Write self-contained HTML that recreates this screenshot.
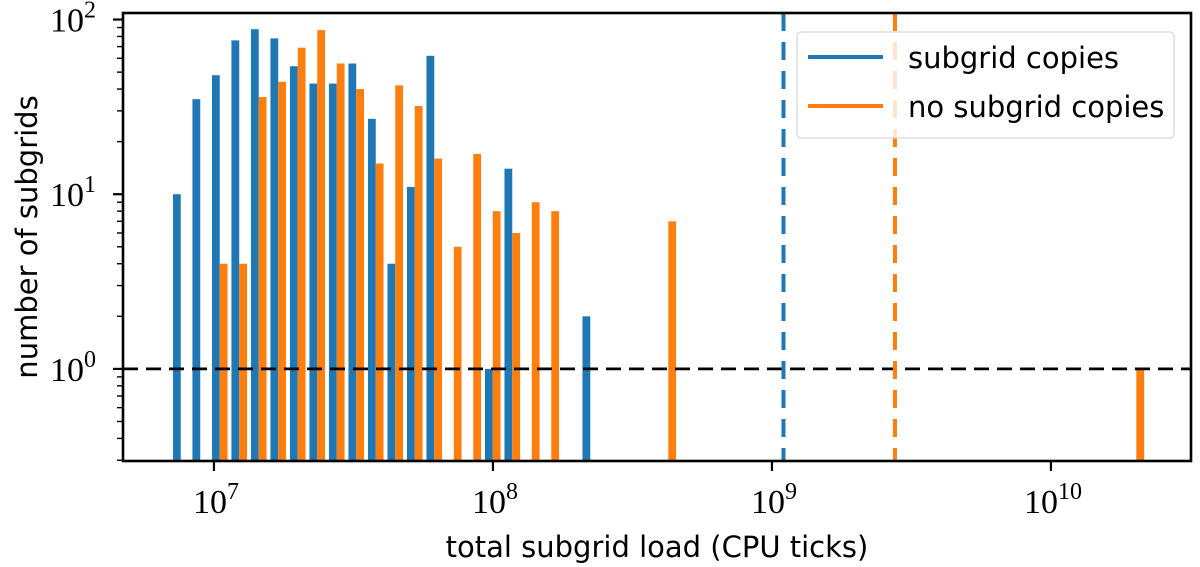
<!DOCTYPE html>
<html><head><meta charset="utf-8"><style>
html,body{margin:0;padding:0;background:#fff;}
svg{display:block;}
</style></head><body>
<svg id="chart" width="1200" height="567" xmlns="http://www.w3.org/2000/svg" font-family="'DejaVu Sans','Liberation Sans',sans-serif">
<g id="bars"></g>
<g id="refs"></g>
<g id="axes"></g>
<g id="legend">
  <rect x="797" y="32" width="377" height="106" rx="4" fill="#fff" fill-opacity="0.8" stroke="#d6d6d6" stroke-width="1.2"/>
  <line x1="808" y1="57" x2="883" y2="57" stroke="#1f77b4" stroke-width="4"/>
  <text x="908" y="68" font-size="29" fill="#000">subgrid copies</text>
  <line x1="808" y1="106" x2="883" y2="106" stroke="#ff7f0e" stroke-width="4"/>
  <text x="908" y="117" font-size="29" fill="#000">no subgrid copies</text>
</g>
<text x="657" y="557" text-anchor="middle" font-size="29">total subgrid load (CPU ticks)</text>
<text transform="translate(37,237) rotate(-90)" text-anchor="middle" font-size="29">number of subgrids</text>
</svg>
<script>
// bin indices (log-spaced bins, 0.07 decade wide starting at 10^6.846)
const blueBins = [0,1,2,3,4,5,6,7,8,9,10,11,12,13,16,17,21];
const blueCounts = [10,35,48,76,88,78,54,43,43,56,27,4,11,62,1,14,2];
const orangeBins = [2,3,4,5,6,7,8,9,10,11,12,13,14,15,16,17,18,19,25,49];
const orangeCounts = [4,4,36,44,69,87,56,40,15,42,32,16,5,17,8,6,9,8,7,1];
const binStartLog = 6.846;
const binWidthLog = 0.0699;
const meanBlue = 1.1e9;
const meanOrange = 2.76e9;
const xTicks = [7,8,9,10];
const yTicks = [0,1,2];

const NS = "http://www.w3.org/2000/svg";
const L = 123, R = 1191, T = 13, B = 461;
const xLogMin = 6.674, xLogMax = 10.502;
const yLogMin = Math.log10(0.297), yLogMax = Math.log10(109);
function xs(lg){ return L + (lg - xLogMin) / (xLogMax - xLogMin) * (R - L); }
function ys(v){ return B - (Math.log10(v) - yLogMin) / (yLogMax - yLogMin) * (B - T); }
function mk(tag, attrs, parent){ const e = document.createElementNS(NS, tag); for (const k in attrs) e.setAttribute(k, attrs[k]); parent.appendChild(e); return e; }

const barsG = document.getElementById('bars');
function drawBars(bins, counts, color, offset, name){
  bins.forEach((b, i) => {
    const l = binStartLog + b * binWidthLog;
    const x0 = xs(l + binWidthLog * offset), x1 = xs(l + binWidthLog * (offset + 0.4));
    const y = ys(counts[i]);
    const r = mk('rect', {x: x0, y: y, width: x1 - x0, height: B - y, fill: color}, barsG);
    
    
  });
}
drawBars(blueBins, blueCounts, '#1f77b4', 0.1, 'subgrid-copies');
drawBars(orangeBins, orangeCounts, '#ff7f0e', 0.5, 'no-subgrid-copies');

const refs = document.getElementById('refs');
const hl = mk('line', {x1: L, x2: R, y1: ys(1), y2: ys(1), stroke: '#000', 'stroke-width': 2.8, 'stroke-dasharray': '15 8'}, refs);


const vb = mk('line', {x1: xs(Math.log10(meanBlue)), x2: xs(Math.log10(meanBlue)), y1: T, y2: B, stroke: '#1f77b4', 'stroke-width': 4, 'stroke-dasharray': '18 11'}, refs);


const vo = mk('line', {x1: xs(Math.log10(meanOrange)), x2: xs(Math.log10(meanOrange)), y1: T, y2: B, stroke: '#ff7f0e', 'stroke-width': 4, 'stroke-dasharray': '18 11'}, refs);



const ax = document.getElementById('axes');
const frame = mk('rect', {x: L, y: T, width: R - L, height: B - T, fill: 'none', stroke: '#000', 'stroke-width': 2.6}, ax);


xTicks.forEach(t => {
  const x = xs(t);
  const tk = mk('line', {x1: x, x2: x, y1: B, y2: B + 10, stroke: '#000', 'stroke-width': 2.2}, ax);
  
  
  const tx = mk('text', {x: x + 2, y: B + 52, 'text-anchor': 'middle', 'font-size': 34, 'font-family': "'Liberation Serif',serif"}, ax);
  
  
  tx.textContent = '10';
  const sp = mk('tspan', {dy: -14, 'font-size': 24}, tx);
  sp.textContent = String(t);
});
yTicks.forEach(t => {
  const y = ys(Math.pow(10, t));
  const tk = mk('line', {x1: L - 10, x2: L, y1: y, y2: y, stroke: '#000', 'stroke-width': 2.2}, ax);
  
  
  const tx = mk('text', {x: L - 50, y: y + 12, 'text-anchor': 'middle', 'font-size': 34, 'font-family': "'Liberation Serif',serif"}, ax);
  
  
  tx.textContent = '10';
  const sp = mk('tspan', {dy: -14, 'font-size': 24}, tx);
  sp.textContent = String(t);
});
for (let d = -1; d <= 1; d++) for (let m = 2; m <= 9; m++) {
  const v = Math.pow(10, d) * m;
  const y = ys(v);
  if (y > T && y < B) { const mt = mk('line', {x1: L - 6, x2: L, y1: y, y2: y, stroke: '#000', 'stroke-width': 1.4}, ax);
    
     }
}
</script>
</body></html>
